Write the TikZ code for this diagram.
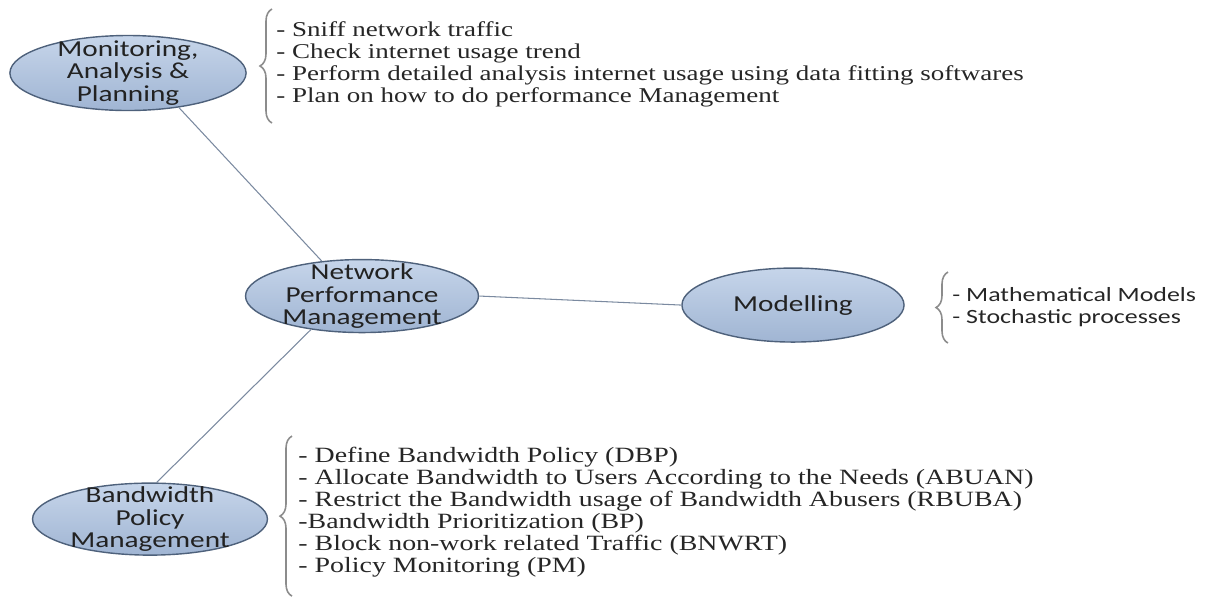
\documentclass[tikz,border=0pt]{standalone}
\usepackage{fontspec}
\setmainfont{Liberation Serif}
\newfontfamily\calibri{Carlito}
\usetikzlibrary{shapes.geometric,decorations.pathreplacing}

\definecolor{stageline}{HTML}{4E617B}
\definecolor{stagetop}{HTML}{C6D5EA}
\definecolor{stagebottom}{HTML}{A0B5D3}
\definecolor{stagetext}{HTML}{222222}
\definecolor{listtext}{HTML}{262626}
\definecolor{bracegray}{HTML}{8C8C8C}
\definecolor{linkgray}{HTML}{7B8AA0}

\begin{document}
\begin{tikzpicture}[x=0.015625cm, y=-0.02cm, xscale=1.28, transform shape,
    stage/.style={ellipse, draw=stageline, line width=0.8pt,
        top color=stagetop, bottom color=stagebottom,
        inner xsep=0pt, inner ysep=-0.35cm,
        text=stagetext, align=center,
        font=\calibri\fontsize{13}{13}\selectfont},
    list/.style={anchor=west, inner sep=0pt, align=left, text=listtext,
        font=\fontsize{12}{12.5}\selectfont},
    curly/.style={draw=bracegray, line width=0.9pt, decorate,
        decoration={brace, amplitude=0.24cm}},
    link/.style={draw=linkgray, line width=0.6pt}]

    \useasboundingbox (0,0) rectangle (1216,597);

    % Stages
    \node[stage, minimum width=3.69cm, minimum height=1.5cm] (MAP) at (128, 73)
    {Monitoring,\\Analysis \&\\Planning};
    \node[stage, minimum width=3.64cm, minimum height=1.46cm] (NPM) at (362, 296)
    {Network\\Performance\\Management};
    \node[stage, minimum width=3.47cm, minimum height=1.48cm] (MOD) at (793, 305)
    {Modelling};
    \node[stage, minimum width=3.67cm, minimum height=1.44cm] (BPM) at (150, 519)
    {Bandwidth\\Policy\\Management};

    % Lists
    \node[list] (MAPlist) at (276, 64)
    {- Sniff network traffic\\
     - Check internet usage trend\\
     - Perform detailed analysis internet usage using data fitting softwares\\
     - Plan on how to do performance Management};
    \node[list, font=\calibri\fontsize{11.5}{13}\selectfont] (MODlist) at (952, 307)
    {- Mathematical Models\\
     - Stochastic processes};
    \node[list, font=\fontsize{12.4}{12.6}\selectfont] (BPMlist) at (298, 512)
    {- Define Bandwidth Policy (DBP)\\
     - Allocate Bandwidth to Users According to the Needs (ABUAN)\\
     - Restrict the Bandwidth usage of Bandwidth Abusers (RBUBA)\\
     -Bandwidth Prioritization (BP)\\
     - Block non-work related Traffic (BNWRT)\\
     - Policy Monitoring (PM)};

    % Braces
    \draw[curly] (272, 123) -- (272, 9);
    \draw[curly] (948, 343) -- (948, 272);
    \draw[curly] (292, 596) -- (292, 436);

    % Links
    \draw[link] (MAP.-41) -- (NPM.132);
    \draw[link] (NPM.east) -- (MOD.west);
    \draw[link] (NPM.220) -- (BPM.82);

\end{tikzpicture}
\end{document}
